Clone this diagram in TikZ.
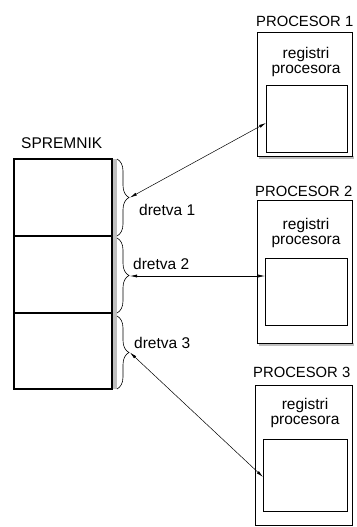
\documentclass[tikz,border=0pt]{standalone}
\usepackage{fontspec}
\setmainfont{Liberation Sans}
\usetikzlibrary{arrows.meta,decorations.pathreplacing}
\begin{document}
\begin{tikzpicture}[x=1pt,y=-1pt,
  cell/.style={draw,line width=1.1pt,minimum width=98pt,inner sep=0pt,outer sep=0pt},
  outerbox/.style={draw,line width=1pt,inner sep=0pt,outer sep=0pt},
  innerbox/.style={draw,line width=0.9pt,inner sep=0pt,outer sep=0pt},
  lbl/.style={font=\fontsize{15.5}{17}\selectfont,inner sep=0pt},
  ttl/.style={font=\fontsize{14.8}{17}\selectfont,inner sep=0pt},
  brc/.style={decorate,decoration={brace,amplitude=12pt},line width=0.6pt},
  conn/.style={line width=0.5pt,{Latex[length=7pt,width=3pt]}-{Latex[length=7pt,width=3pt]}},
  shadow/.style={fill=black!25,draw=none}
]
\useasboundingbox (0,0) rectangle (356,527);
% memory
\node[lbl,anchor=west] (mem) at (21,143) {SPREMNIK};
\node[cell,minimum height=77pt,anchor=north west] (c1) at (14,159) {};
\node[cell,minimum height=77pt,anchor=north west] (c2) at (14,236) {};
\node[cell,minimum height=76pt,anchor=north west] (c3) at (14,313) {};
\fill[shadow] (112.5,159) rectangle (117,389);
% braces
\draw[brc] (117,159) -- (117,236);
\draw[brc] (117,238) -- (117,313);
\draw[brc] (117,316) -- (117,389);
\coordinate (t1) at (130,197.5);
\coordinate (t2) at (130,276);
\coordinate (t3) at (130,352.5);
\node[lbl,anchor=west] (d1) at (139,210) {dretva 1};
\node[lbl,anchor=west] (d2) at (133,264) {dretva 2};
\node[lbl,anchor=west] (d3) at (134,343) {dretva 3};
% processor 1
\fill[shadow] (259,156) rectangle (354,158.5);
\node[outerbox,minimum width=95pt,minimum height=123pt,anchor=north west,fill=white] (p1) at (257,33) {};
\node[innerbox,minimum width=81pt,minimum height=67pt,anchor=north west] (i1) at (266,85) {};
\node[ttl,anchor=west] (n1) at (256,21) {PROCESOR 1};
\node[lbl] (r1) at (306,54) {registri};
\node[lbl] (q1) at (306,71) {procesora};
% processor 2
\fill[shadow] (259,343) rectangle (354,346);
\node[outerbox,minimum width=95pt,minimum height=143pt,anchor=north west,fill=white] (p2) at (257,200) {};
\node[innerbox,minimum width=82pt,minimum height=67pt,anchor=north west] (i2) at (265,258) {};
\node[ttl,anchor=west] (n2) at (255,191) {PROCESOR 2};
\node[lbl] (r2) at (306,225) {registri};
\node[lbl] (q2) at (306,242) {procesora};
% processor 3
\node[outerbox,minimum width=97pt,minimum height=140pt,anchor=north west] (p3) at (255,385) {};
\node[innerbox,minimum width=84pt,minimum height=72pt,anchor=north west] (i3) at (263,439) {};
\node[ttl,anchor=west] (n3) at (253,372) {PROCESOR 3};
\node[lbl] (r3) at (305,405) {registri};
\node[lbl] (q3) at (305,422) {procesora};
% connector ends
\coordinate (e1) at (i1.west |- 0,123);
\coordinate (e2) at (i2.west |- 0,276);
\coordinate (e3) at (i3.west |- 0,477);
\draw[conn] (t1) -- (e1);
\draw[conn] (t2) -- (e2);
\draw[conn] (t3) -- (e3);
\end{tikzpicture}
\end{document}
